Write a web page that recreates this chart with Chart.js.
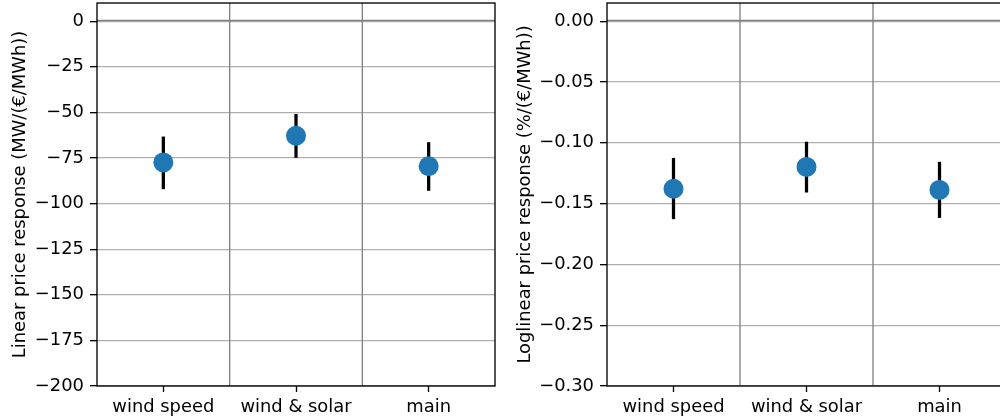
<!DOCTYPE html>
<html>
<head>
<meta charset="utf-8">
<script src="https://cdn.jsdelivr.net/npm/chart.js@4.4.1/dist/chart.umd.min.js"></script>
<style>
  html, body { margin: 0; padding: 0; background: #fff; overflow: hidden; }
  #wrap { position: relative; width: 1000px; height: 420px; overflow: hidden; }
  #left { position: absolute; left: 0; top: 0; }
  #right { position: absolute; left: 500px; top: 0; }
</style>
</head>
<body>
<div id="wrap">
  <canvas id="left" width="500" height="420"></canvas>
  <canvas id="right" width="510" height="420"></canvas>
</div>
<script>
// data
const categories = ['wind speed', 'wind & solar', 'main'];

const linearValues = [-77.4, -62.8, -79.5];
const linearLow = [-91.9, -74.7, -92.8];
const linearHigh = [-63.4, -51.0, -66.5];
const linearTicks = [-200, -175, -150, -125, -100, -75, -50, -25, 0];

const loglinValues = [-0.1378, -0.1198, -0.1387];
const loglinLow = [-0.1625, -0.1406, -0.1615];
const loglinHigh = [-0.1127, -0.0994, -0.1159];
const loglinTicks = [-0.30, -0.25, -0.20, -0.15, -0.10, -0.05, 0.00];

const FONT = { family: 'DejaVu Sans', size: 17.9 };
const LW = 1.33;

function minus(s) {
  return s.replace('-', '\u2212');
}

// separators between categories, zero line and frame
const decorations = {
  id: 'decorations',
  beforeDatasetsDraw(chart) {
    const { ctx, chartArea: a, scales: { x, y } } = chart;
    ctx.save();
    ctx.strokeStyle = '#808080';
    ctx.lineWidth = LW;
    for (let i = 0; i < categories.length - 1; i++) {
      const px = x.getPixelForValue(i + 0.5);
      ctx.beginPath();
      ctx.moveTo(px, a.top);
      ctx.lineTo(px, a.bottom);
      ctx.stroke();
    }
    const py = y.getPixelForValue(0);
    ctx.beginPath();
    ctx.moveTo(a.left, py - 0.7);
    ctx.lineTo(a.right, py - 0.7);
    ctx.stroke();
    ctx.restore();
  },
  afterDraw(chart) {
    const { ctx, chartArea: a } = chart;
    ctx.save();
    ctx.strokeStyle = '#000';
    ctx.lineWidth = LW;
    ctx.strokeRect(a.left, a.top, a.right - a.left, a.bottom - a.top);
    ctx.restore();
  }
};

function makeChart(id, values, low, high, ticks, ymin, ymax, title, fmt, yWidth, titlePad, padRight) {
  const points = values.map((v, i) => ({ x: i, y: v }));
  const bars = values.map((v, i) => ({ x: i, y: [low[i], high[i]] }));
  return new Chart(document.getElementById(id), {
    data: {
      datasets: [
        {
          type: 'scatter',
          data: points,
          backgroundColor: '#1f77b4',
          borderWidth: 0,
          pointRadius: 10,
          pointHoverRadius: 10,
          order: 0
        },
        {
          type: 'bar',
          data: bars,
          backgroundColor: '#000',
          borderWidth: 0,
          barThickness: 2.6,
          order: 1
        }
      ]
    },
    options: {
      responsive: false,
      animation: false,
      devicePixelRatio: 1,
      layout: { autoPadding: false, padding: { top: 3, right: padRight, bottom: 0, left: 0 } },
      plugins: { legend: { display: false }, tooltip: { enabled: false } },
      scales: {
        x: {
          type: 'linear',
          min: -0.5,
          max: 2.5,
          offset: false,
          afterBuildTicks(scale) {
            scale.ticks = categories.map((c, i) => ({ value: i }));
          },
          afterFit(scale) {
            scale.height = 34;
            scale.paddingLeft = 0;
            scale.paddingRight = 0;
          },
          ticks: {
            autoSkip: false,
            maxRotation: 0,
            padding: 5,
            color: '#000',
            font: FONT,
            callback: (v) => categories[v]
          },
          grid: {
            offset: false,
            drawOnChartArea: false,
            drawTicks: true,
            tickLength: 6,
            tickColor: '#000',
            tickWidth: LW
          },
          border: { display: false }
        },
        y: {
          type: 'linear',
          min: ymin,
          max: ymax,
          afterBuildTicks(scale) {
            scale.ticks = ticks.map(v => ({ value: v }));
          },
          afterFit(scale) {
            scale.width = yWidth;
            scale.paddingTop = 0;
            scale.paddingBottom = 0;
          },
          ticks: {
            padding: 6,
            color: '#000',
            font: FONT,
            callback: fmt
          },
          grid: {
            color: '#b0b0b0',
            lineWidth: LW,
            drawTicks: true,
            tickLength: 7,
            tickColor: '#000',
            tickWidth: LW
          },
          border: { display: false },
          title: {
            display: true,
            text: title,
            color: '#000',
            font: FONT,
            padding: { top: titlePad, bottom: 0 }
          }
        }
      }
    },
    plugins: [decorations]
  });
}

makeChart('left', linearValues, linearLow, linearHigh, linearTicks, -200, 10,
  'Linear price response (MW/(\u20ac/MWh))',
  (v) => minus(String(v)), 97, 10, 5);

makeChart('right', loglinValues, loglinLow, loglinHigh, loglinTicks, -0.30, 0.015,
  'Loglinear price response (%/(\u20ac/MWh))',
  (v) => minus(Number(v).toFixed(2)), 107, 15, 4);
</script>
</body>
</html>
